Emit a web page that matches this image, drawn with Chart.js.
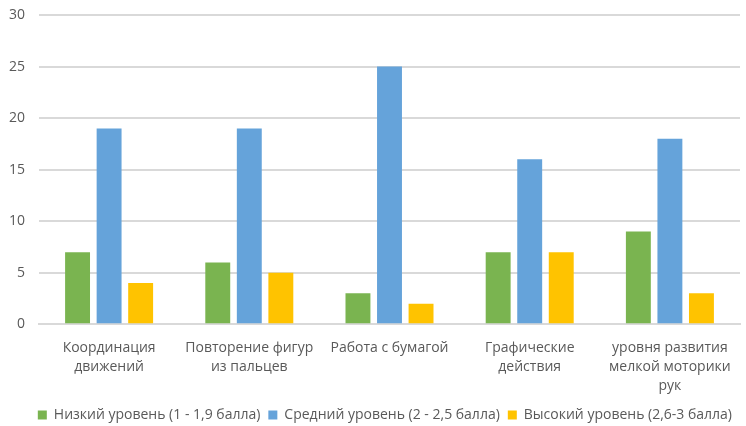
<!DOCTYPE html>
<html>
<head>
<meta charset="utf-8">
<script src="https://cdn.jsdelivr.net/npm/chart.js@4/dist/chart.umd.min.js"></script>
<style>
  html, body { margin: 0; padding: 0; background: #fff; }
  #wrap { width: 746px; height: 426px; }
</style>
</head>
<body>
<div id="wrap"><canvas id="myChart" width="746" height="426"></canvas></div>
<script>
// категории и значения
const categories = [
  ['Координация', 'движений'],
  ['Повторение фигур', 'из пальцев'],
  'Работа с бумагой',
  ['Графические', 'действия'],
  ['уровня развития', 'мелкой моторики', 'рук']
];
const lowLevel = [7, 6, 3, 7, 9];
const midLevel = [19, 19, 25, 16, 18];
const highLevel = [4, 5, 2, 7, 3];
const yTicks = [0, 5, 10, 15, 20, 25, 30];

const textColor = '#595959';
const gridColor = '#d9d9d9';
const fontFamily = '"Open Sans", "Noto Sans", sans-serif';

const ctx = document.getElementById('myChart').getContext('2d');
const chart = new Chart(ctx, {
  type: 'bar',
  data: {
    labels: categories,
    datasets: [
      {
        label: 'Низкий уровень (1 - 1,9 балла)',
        data: lowLevel,
        backgroundColor: '#7ab450'
      },
      {
        label: 'Средний уровень (2 - 2,5 балла)',
        data: midLevel,
        backgroundColor: '#65a3da'
      },
      {
        label: 'Высокий уровень (2,6-3 балла)',
        data: highLevel,
        backgroundColor: '#ffc300'
      }
    ]
  },
  options: {
    responsive: false,
    animation: false,
    layout: { padding: { top: 15, right: 6, left: 8, bottom: -6 } },
    datasets: {
      bar: { categoryPercentage: 0.675, barPercentage: 0.79 }
    },
    scales: {
      x: {
        grid: { display: false, drawTicks: false },
        border: { display: true, color: gridColor, width: 2 },
        afterFit: axis => { axis.height -= 9; },
        ticks: {
          color: textColor,
          font: { family: fontFamily, size: 14, lineHeight: 1.35 },
          padding: 14,
          maxRotation: 0,
          autoSkip: false
        }
      },
      y: {
        min: 0,
        max: 30,
        afterBuildTicks: axis => { axis.ticks = yTicks.map(v => ({ value: v })); },
        afterFit: axis => {
          axis.width = 31;
          axis.paddingTop = 0;
          axis.paddingBottom = 0;
        },
        grid: { color: gridColor, lineWidth: 2, drawTicks: false },
        border: { display: false },
        ticks: {
          color: textColor,
          font: { family: fontFamily, size: 14 },
          padding: 14
        }
      }
    },
    plugins: {
      legend: {
        position: 'bottom',
        align: 'end',
        labels: {
          color: textColor,
          font: { family: fontFamily, size: 14 },
          boxWidth: 9,
          boxHeight: 9,
          padding: 8
        }
      },
      tooltip: { enabled: false }
    }
  }
});
</script>
</body>
</html>
